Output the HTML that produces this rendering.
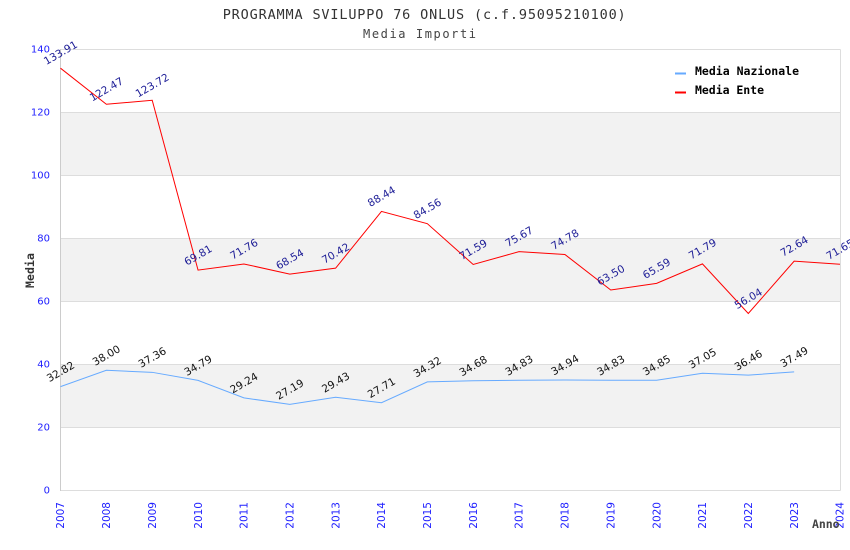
<!DOCTYPE html>
<html><head><meta charset="utf-8"><style>
html,body{margin:0;padding:0;background:#fff;}
svg{display:block;}
</style></head><body>
<svg width="850" height="550" viewBox="0 0 850 550" xmlns="http://www.w3.org/2000/svg">
<rect x="0" y="0" width="850" height="550" fill="#fff"/>
<!-- bands -->
<rect x="60.5" y="112" width="779.5" height="63" fill="#f2f2f2"/>
<rect x="60.5" y="238" width="779.5" height="63" fill="#f2f2f2"/>
<rect x="60.5" y="364" width="779.5" height="63" fill="#f2f2f2"/>
<!-- grid -->
<g stroke="#dddddd" stroke-width="1">
<line x1="60.5" y1="49.5" x2="840.5" y2="49.5"/>
<line x1="60.5" y1="112.5" x2="840.5" y2="112.5"/>
<line x1="60.5" y1="175.5" x2="840.5" y2="175.5"/>
<line x1="60.5" y1="238.5" x2="840.5" y2="238.5"/>
<line x1="60.5" y1="301.5" x2="840.5" y2="301.5"/>
<line x1="60.5" y1="364.5" x2="840.5" y2="364.5"/>
<line x1="60.5" y1="427.5" x2="840.5" y2="427.5"/>
<line x1="60.5" y1="490.5" x2="840.5" y2="490.5"/>
<line x1="840.5" y1="49.5" x2="840.5" y2="490.5"/>
</g>
<line x1="60.5" y1="49" x2="60.5" y2="491" stroke="#cccccc" stroke-width="1"/>
<!-- y ticks -->
<g font-family="DejaVu Sans, Liberation Sans, sans-serif" font-size="10" fill="#2020ff" text-anchor="end">
<text x="50" y="49" dy="0.35em">140</text>
<text x="50" y="112" dy="0.35em">120</text>
<text x="50" y="175" dy="0.35em">100</text>
<text x="50" y="238" dy="0.35em">80</text>
<text x="50" y="301" dy="0.35em">60</text>
<text x="50" y="364" dy="0.35em">40</text>
<text x="50" y="427" dy="0.35em">20</text>
<text x="50" y="490" dy="0.35em">0</text>
</g>
<!-- x ticks -->
<g font-family="DejaVu Sans, Liberation Sans, sans-serif" font-size="10.5" fill="#2020ff" text-anchor="end">
<text transform="translate(64.2,502) rotate(-90)">2007</text>
<text transform="translate(110.1,502) rotate(-90)">2008</text>
<text transform="translate(155.9,502) rotate(-90)">2009</text>
<text transform="translate(201.8,502) rotate(-90)">2010</text>
<text transform="translate(247.6,502) rotate(-90)">2011</text>
<text transform="translate(293.5,502) rotate(-90)">2012</text>
<text transform="translate(339.3,502) rotate(-90)">2013</text>
<text transform="translate(385.2,502) rotate(-90)">2014</text>
<text transform="translate(431.0,502) rotate(-90)">2015</text>
<text transform="translate(476.9,502) rotate(-90)">2016</text>
<text transform="translate(522.7,502) rotate(-90)">2017</text>
<text transform="translate(568.6,502) rotate(-90)">2018</text>
<text transform="translate(614.4,502) rotate(-90)">2019</text>
<text transform="translate(660.3,502) rotate(-90)">2020</text>
<text transform="translate(706.1,502) rotate(-90)">2021</text>
<text transform="translate(752.0,502) rotate(-90)">2022</text>
<text transform="translate(797.8,502) rotate(-90)">2023</text>
<text transform="translate(843.7,502) rotate(-90)">2024</text>
</g>
<!-- titles -->
<text x="222.7" y="19" font-family="DejaVu Sans Mono, Liberation Mono, monospace" font-size="13.5" fill="#333" textLength="403" lengthAdjust="spacing">PROGRAMMA SVILUPPO 76 ONLUS (c.f.95095210100)</text>
<text x="363" y="38" font-family="DejaVu Sans Mono, Liberation Mono, monospace" font-size="12" fill="#444" textLength="113" lengthAdjust="spacing">Media Importi</text>
<text transform="translate(34,288) rotate(-90)" font-family="DejaVu Sans Mono, Liberation Mono, monospace" font-size="11.5" font-weight="bold" fill="#333" textLength="35" lengthAdjust="spacing">Media</text>
<text x="812" y="528" font-family="DejaVu Sans Mono, Liberation Mono, monospace" font-size="11.5" font-weight="bold" fill="#444" textLength="27.5" lengthAdjust="spacing">Anno</text>
<!-- legend -->
<line x1="675" y1="73.5" x2="686" y2="73.5" stroke="#66aaff" stroke-width="2"/>
<line x1="675" y1="92.5" x2="686" y2="92.5" stroke="#ff0000" stroke-width="2"/>
<g font-family="DejaVu Sans Mono, Liberation Mono, monospace" font-size="11.5" font-weight="bold" fill="#000">
<text x="695" y="75" textLength="104" lengthAdjust="spacing">Media Nazionale</text>
<text x="695" y="94" textLength="69" lengthAdjust="spacing">Media Ente</text>
</g>
<!-- series -->
<polyline fill="none" stroke="#66aaff" stroke-width="1" points="60.5,386.62 106.35,370.3 152.21,372.32 198.06,380.41 243.91,397.89 289.77,404.35 335.62,397.3 381.47,402.71 427.32,381.89 473.18,380.76 519.03,380.29 564.88,379.94 610.74,380.29 656.59,380.22 702.44,373.29 748.29,375.15 794.15,371.91"/>
<polyline fill="none" stroke="#ff0000" stroke-width="1" points="60.5,68.18 106.35,104.22 152.21,100.28 198.06,270.1 243.91,263.96 289.77,274.1 335.62,268.18 381.47,211.41 427.32,223.64 473.18,264.49 519.03,251.64 564.88,254.44 610.74,289.97 656.59,283.39 702.44,263.86 748.29,313.47 794.15,261.18 840,264.3"/>
<!-- labels nazionale -->
<g font-family="DejaVu Sans, Liberation Sans, sans-serif" font-size="10.5" fill="#111" text-anchor="middle">
<text transform="translate(60.5,371.6) rotate(-30)" dy="0.35em">32.82</text>
<text transform="translate(106.35,355.3) rotate(-30)" dy="0.35em">38.00</text>
<text transform="translate(152.21,357.3) rotate(-30)" dy="0.35em">37.36</text>
<text transform="translate(198.06,365.4) rotate(-30)" dy="0.35em">34.79</text>
<text transform="translate(243.91,382.9) rotate(-30)" dy="0.35em">29.24</text>
<text transform="translate(289.77,389.35) rotate(-30)" dy="0.35em">27.19</text>
<text transform="translate(335.62,382.3) rotate(-30)" dy="0.35em">29.43</text>
<text transform="translate(381.47,387.7) rotate(-30)" dy="0.35em">27.71</text>
<text transform="translate(427.32,366.9) rotate(-30)" dy="0.35em">34.32</text>
<text transform="translate(473.18,365.8) rotate(-30)" dy="0.35em">34.68</text>
<text transform="translate(519.03,365.3) rotate(-30)" dy="0.35em">34.83</text>
<text transform="translate(564.88,364.9) rotate(-30)" dy="0.35em">34.94</text>
<text transform="translate(610.74,365.3) rotate(-30)" dy="0.35em">34.83</text>
<text transform="translate(656.59,365.2) rotate(-30)" dy="0.35em">34.85</text>
<text transform="translate(702.44,358.3) rotate(-30)" dy="0.35em">37.05</text>
<text transform="translate(748.29,360.15) rotate(-30)" dy="0.35em">36.46</text>
<text transform="translate(794.15,356.9) rotate(-30)" dy="0.35em">37.49</text>
</g>
<!-- labels ente -->
<g font-family="DejaVu Sans, Liberation Sans, sans-serif" font-size="10.5" fill="#1c1c96" text-anchor="middle">
<text transform="translate(60.5,52.7) rotate(-30)" dy="0.35em">133.91</text>
<text transform="translate(106.35,89.2) rotate(-30)" dy="0.35em">122.47</text>
<text transform="translate(152.21,85.3) rotate(-30)" dy="0.35em">123.72</text>
<text transform="translate(198.06,255.1) rotate(-30)" dy="0.35em">69.81</text>
<text transform="translate(243.91,249) rotate(-30)" dy="0.35em">71.76</text>
<text transform="translate(289.77,259.1) rotate(-30)" dy="0.35em">68.54</text>
<text transform="translate(335.62,253.2) rotate(-30)" dy="0.35em">70.42</text>
<text transform="translate(381.47,196.4) rotate(-30)" dy="0.35em">88.44</text>
<text transform="translate(427.32,208.6) rotate(-30)" dy="0.35em">84.56</text>
<text transform="translate(473.18,249.5) rotate(-30)" dy="0.35em">71.59</text>
<text transform="translate(519.03,236.6) rotate(-30)" dy="0.35em">75.67</text>
<text transform="translate(564.88,239.4) rotate(-30)" dy="0.35em">74.78</text>
<text transform="translate(610.74,275) rotate(-30)" dy="0.35em">63.50</text>
<text transform="translate(656.59,268.4) rotate(-30)" dy="0.35em">65.59</text>
<text transform="translate(702.44,248.9) rotate(-30)" dy="0.35em">71.79</text>
<text transform="translate(748.29,298.5) rotate(-30)" dy="0.35em">56.04</text>
<text transform="translate(794.15,246.2) rotate(-30)" dy="0.35em">72.64</text>
<text transform="translate(840,249.3) rotate(-30)" dy="0.35em">71.65</text>
</g>
</svg>
</body></html>
